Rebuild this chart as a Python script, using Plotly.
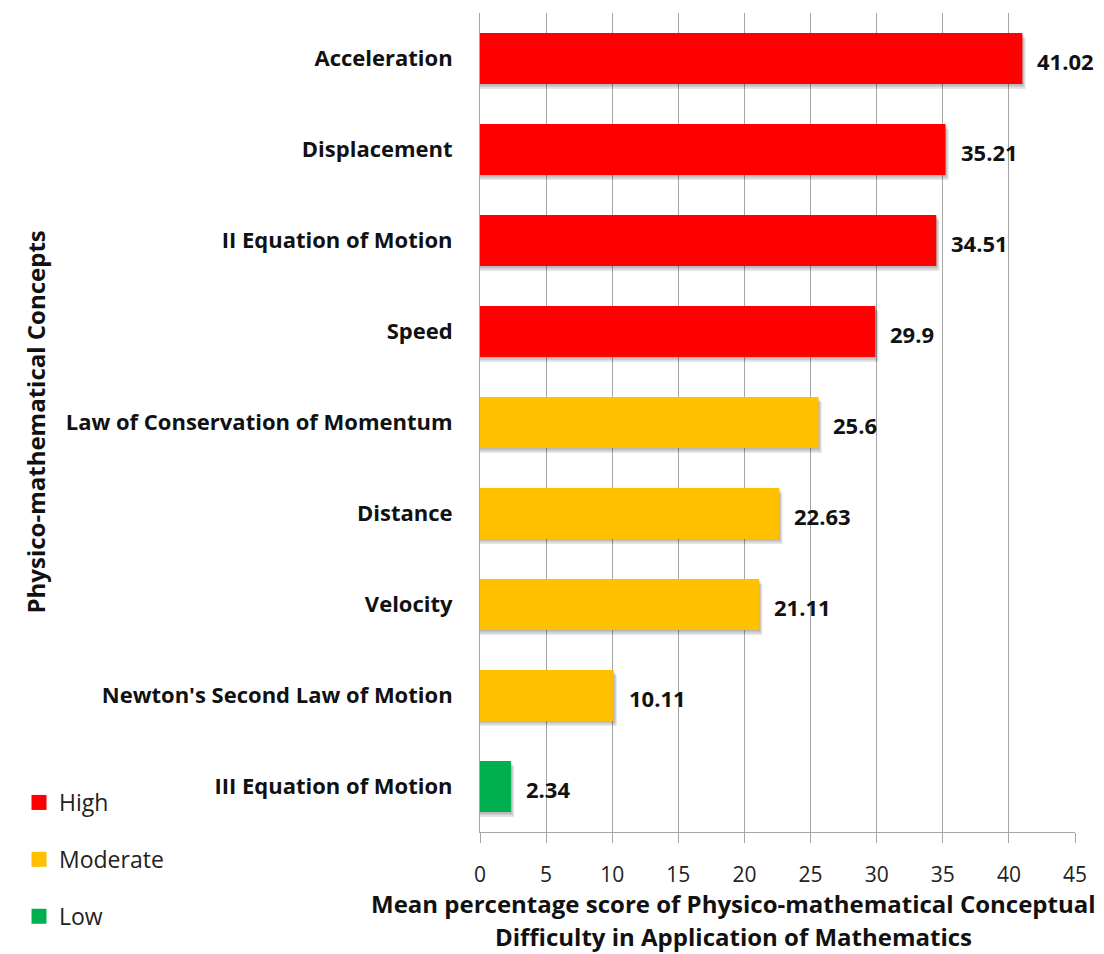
import plotly.graph_objects as go

# Concepts listed from top to bottom, with mean percentage scores
concepts = [
    "Acceleration",
    "Displacement",
    "II Equation of Motion",
    "Speed",
    "Law of Conservation of Momentum",
    "Distance",
    "Velocity",
    "Newton's Second Law of Motion",
    "III Equation of Motion",
]
scores = [41.02, 35.21, 34.51, 29.9, 25.6, 22.63, 21.11, 10.11, 2.34]
levels = ["High", "High", "High", "High",
          "Moderate", "Moderate", "Moderate", "Moderate", "Low"]

level_names = ["High", "Moderate", "Low"]
level_colors = {"High": "#FF0000", "Moderate": "#FFC000", "Low": "#00B050"}
x_ticks = [0, 5, 10, 15, 20, 25, 30, 35, 40, 45]

FONT = "Open Sans"
BAR_W = 0.56
GRID = "#A6A6A6"

# pixel geometry of the plotting area (used for paper-coordinate placement)
L, R, T, B = 480, 1075, 13, 832
PW, PH = R - L, B - T


def px_x(px):
    return (px - L) / PW


def px_y(px):
    return (B - px) / PH


fig = go.Figure()

# soft drop shadow under each bar (a few stacked translucent layers)
for i in range(1, 4):
    fig.add_trace(go.Bar(
        y=concepts,
        x=[v + 0.08 * i for v in scores],
        orientation="h",
        width=BAR_W,
        offset=-BAR_W / 2 + 0.018 * i,
        marker=dict(color="rgba(0,0,0,0.10)", line=dict(width=0)),
        showlegend=False,
        hoverinfo="skip",
    ))

# main bars, one trace per difficulty level
for lvl in level_names:
    ys = [c for c, l in zip(concepts, levels) if l == lvl]
    xs = [v for v, l in zip(scores, levels) if l == lvl]
    fig.add_trace(go.Bar(
        y=ys,
        x=xs,
        orientation="h",
        width=BAR_W,
        name=lvl,
        legendgroup=lvl,
        showlegend=False,
        marker=dict(color=level_colors[lvl], line=dict(width=0)),
    ))

# legend entries with square swatches
for lvl in level_names:
    fig.add_trace(go.Scatter(
        x=[None], y=[None],
        mode="markers",
        name=lvl,
        legendgroup=lvl,
        marker=dict(symbol="square", size=15, color=level_colors[lvl]),
        hoverinfo="skip",
    ))

# value labels to the right of each bar
for c, v in zip(concepts, scores):
    fig.add_annotation(
        x=v, y=c, xref="x", yref="y",
        text=f"{v:g}",
        showarrow=False,
        xanchor="left", yanchor="middle",
        xshift=13, yshift=-2,
        font=dict(family=FONT, size=22, color="#111111", weight="bold"),
    )

# axis titles
fig.add_annotation(
    x=px_x(35), y=0.5, xref="paper", yref="paper",
    text="Physico-mathematical Concepts",
    textangle=-90, showarrow=False,
    xanchor="center", yanchor="middle",
    font=dict(family=FONT, size=24, color="#111111", weight="bold"),
)
for line, ypx in [("Mean percentage score of Physico-mathematical Conceptual", 904),
                  ("Difficulty in Application of Mathematics", 936)]:
    fig.add_annotation(
        x=px_x(733), y=px_y(ypx), xref="paper", yref="paper",
        text=line,
        showarrow=False,
        xanchor="center", yanchor="middle",
        font=dict(family=FONT, size=24, color="#111111", weight="bold"),
    )

fig.update_layout(
    width=1104, height=954,
    margin=dict(l=L, r=1104 - R, t=T, b=954 - B, autoexpand=False),
    paper_bgcolor="white",
    plot_bgcolor="white",
    barmode="overlay",
    font=dict(family=FONT, color="#111111"),
    legend=dict(
        x=px_x(19), y=px_y(781),
        xanchor="left", yanchor="top",
        font=dict(family=FONT, size=23, color="#222222"),
        tracegroupgap=24,
        bgcolor="rgba(0,0,0,0)",
        itemwidth=30,
    ),
    xaxis=dict(
        range=[0, 45],
        tickvals=x_ticks,
        ticktext=[str(t) for t in x_ticks],
        showgrid=True, gridcolor=GRID, gridwidth=1,
        showline=True, linecolor=GRID, linewidth=1,
        ticks="outside", ticklen=10, tickcolor=GRID,
        tickfont=dict(family=FONT, size=21, color="#222222"),
        ticklabelstandoff=14,
        zeroline=False,
        fixedrange=True,
    ),
    yaxis=dict(
        categoryorder="array",
        categoryarray=concepts,
        autorange="reversed",
        showgrid=False,
        showline=True, linecolor=GRID, linewidth=1,
        ticks="",
        tickfont=dict(family=FONT, size=22, color="#111111", weight="bold"),
        ticklabelstandoff=22,
        fixedrange=True,
    ),
)

fig.write_html("out.html")
